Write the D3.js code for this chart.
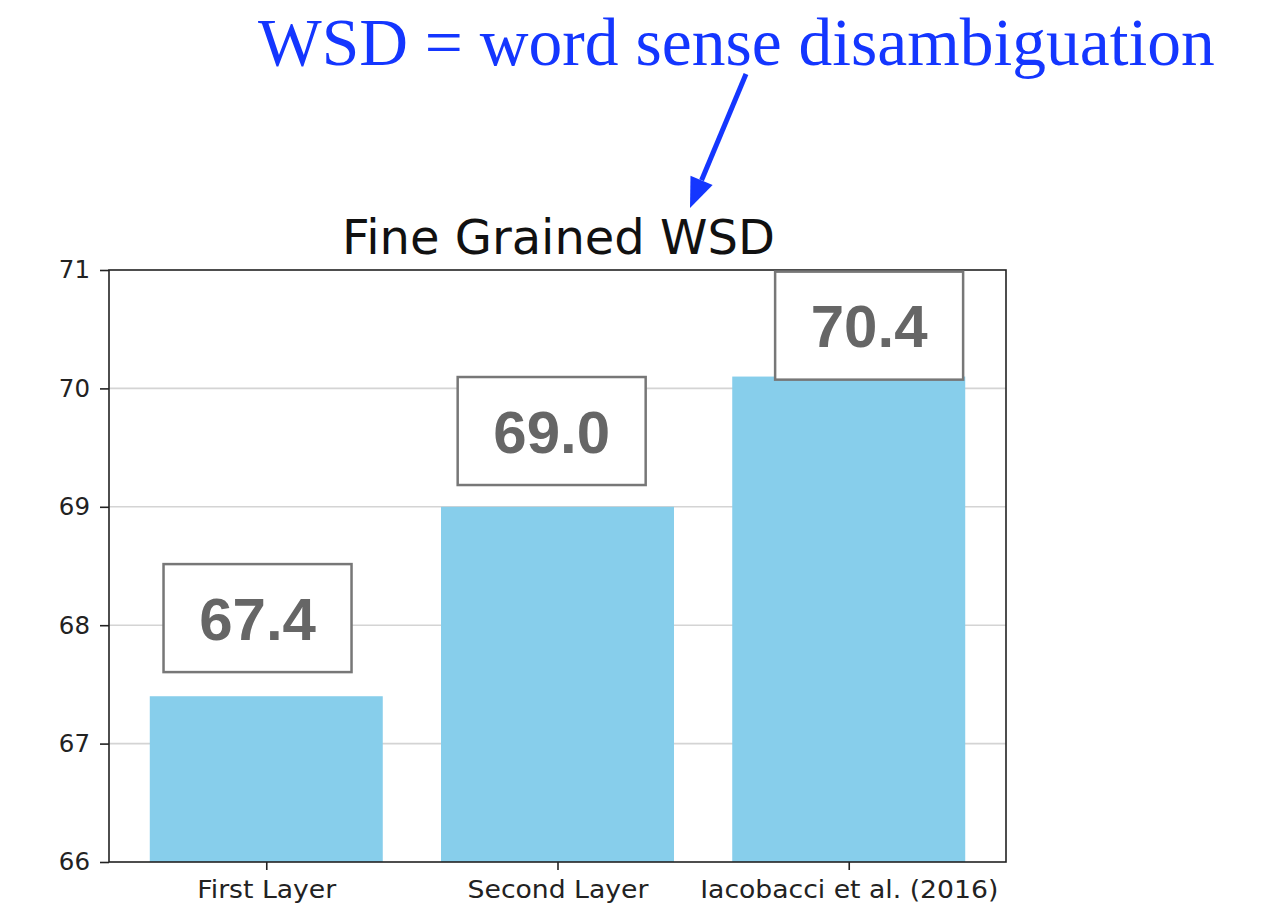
<!DOCTYPE html>
<html>
<head>
<meta charset="utf-8">
<script src="https://cdn.jsdelivr.net/npm/d3@7"></script>
<style>
  body { margin: 0; background: #fff; }
  svg { display: block; }
</style>
</head>
<body>
<div id="chart"></div>
<script>
// data
const categories = ["First Layer", "Second Layer", "Iacobacci et al. (2016)"];
const scores = [67.4, 69.0, 70.1];
const labelTexts = ["67.4", "69.0", "70.4"];
// where the boxed labels sit, in data units (value axis) and category offset
const labelAt = [68.06, 69.64, 70.53];
const labelShift = [-0.03, -0.02, 0.07];
const yTicks = [66, 67, 68, 69, 70, 71];

const WIDTH = 1277, HEIGHT = 909;
const PL = 109, PR = 1006, PT = 270, PB = 862;

const svg = d3.select("#chart").append("svg")
    .attr("width", WIDTH)
    .attr("height", HEIGHT);

const x = d3.scaleLinear().domain([-0.54, 2.54]).range([PL, PR]);
const y = d3.scaleLinear().domain([66, 71]).range([PB, PT]);
const barW = x(0.8) - x(0);

// grid
svg.append("g").selectAll("line").data(yTicks.slice(1, -1)).enter().append("line")
    .attr("x1", PL).attr("x2", PR)
    .attr("y1", d => y(d)).attr("y2", d => y(d))
    .attr("stroke", "#d4d4d4")
    .attr("stroke-width", 1.6);

// bars
svg.append("g").selectAll("rect").data(scores).enter().append("rect")
    .attr("x", (d, i) => x(i) - barW / 2)
    .attr("width", barW)
    .attr("y", d => y(d))
    .attr("height", d => y(66) - y(d))
    .attr("fill", "#87ceeb");

// frame
svg.append("rect")
    .attr("x", PL).attr("y", PT)
    .attr("width", PR - PL).attr("height", PB - PT)
    .attr("fill", "none")
    .attr("stroke", "#222")
    .attr("stroke-width", 1.6);

// y axis
const yAxis = d3.axisLeft(y).tickValues(yTicks).tickFormat(d3.format("d")).tickSize(9).tickPadding(10);
const gy = svg.append("g").attr("transform", `translate(${PL},0)`).call(yAxis);
gy.select(".domain").remove();
gy.selectAll("line").attr("stroke", "#222").attr("stroke-width", 1.6);
gy.selectAll("text")
    .style("font-family", "'DejaVu Sans', sans-serif")
    .style("font-size", "24.5px")
    .attr("fill", "#222");

// x axis
const xAxis = d3.axisBottom(x).tickValues([0, 1, 2]).tickFormat(i => categories[i]).tickSize(8).tickPadding(11);
const gx = svg.append("g").attr("transform", `translate(0,${PB})`).call(xAxis);
gx.select(".domain").remove();
gx.selectAll("line").attr("stroke", "#222").attr("stroke-width", 1.6);
gx.selectAll("text")
    .style("font-family", "'DejaVu Sans', sans-serif")
    .style("font-size", "24px")
    .attr("fill", "#222")
    .each(function () {
        // the source labels are a little wider than plain DejaVu
        const w = this.getComputedTextLength();
        d3.select(this).attr("textLength", w * 1.11).attr("lengthAdjust", "spacingAndGlyphs");
    });

// boxed value labels
const boxW = 188, boxH = 108;
const labels = svg.append("g").selectAll("g").data(labelTexts).enter().append("g")
    .attr("transform", (d, i) => `translate(${x(i + labelShift[i])},${y(labelAt[i])})`);
labels.append("rect")
    .attr("x", -boxW / 2).attr("y", -boxH / 2)
    .attr("width", boxW).attr("height", boxH)
    .attr("fill", "#fff")
    .attr("stroke", "#777")
    .attr("stroke-width", 2.5);
labels.append("text")
    .text(d => d)
    .attr("text-anchor", "middle")
    .attr("dy", "0.36em")
    .style("font-family", "'Liberation Sans', Arial, sans-serif")
    .style("font-weight", "bold")
    .style("font-size", "60px")
    .attr("fill", "#666");

// title
svg.append("text")
    .attr("x", (PL + PR) / 2 + 1)
    .attr("y", 254)
    .attr("text-anchor", "middle")
    .style("font-family", "'DejaVu Sans', sans-serif")
    .style("font-size", "48px")
    .attr("fill", "#111")
    .text("Fine Grained WSD");

// annotation
const blue = "#1436ff";
svg.append("text")
    .attr("x", 258)
    .attr("y", 65)
    .style("font-family", "'Liberation Serif', 'DejaVu Serif', serif")
    .style("font-size", "67.5px")
    .attr("fill", blue)
    .text("WSD = word sense disambiguation");

const a0 = [746, 74], a1 = [690, 208];
const ang = Math.atan2(a1[1] - a0[1], a1[0] - a0[0]);
const headL = 30, headW = 12;
const base = [a1[0] - headL * Math.cos(ang), a1[1] - headL * Math.sin(ang)];
svg.append("line")
    .attr("x1", a0[0]).attr("y1", a0[1])
    .attr("x2", base[0]).attr("y2", base[1])
    .attr("stroke", blue)
    .attr("stroke-width", 5);
svg.append("path")
    .attr("d", d3.line()([
        a1,
        [base[0] + headW * Math.sin(ang), base[1] - headW * Math.cos(ang)],
        [base[0] - headW * Math.sin(ang), base[1] + headW * Math.cos(ang)]
    ]) + "Z")
    .attr("fill", blue);
</script>
</body>
</html>
